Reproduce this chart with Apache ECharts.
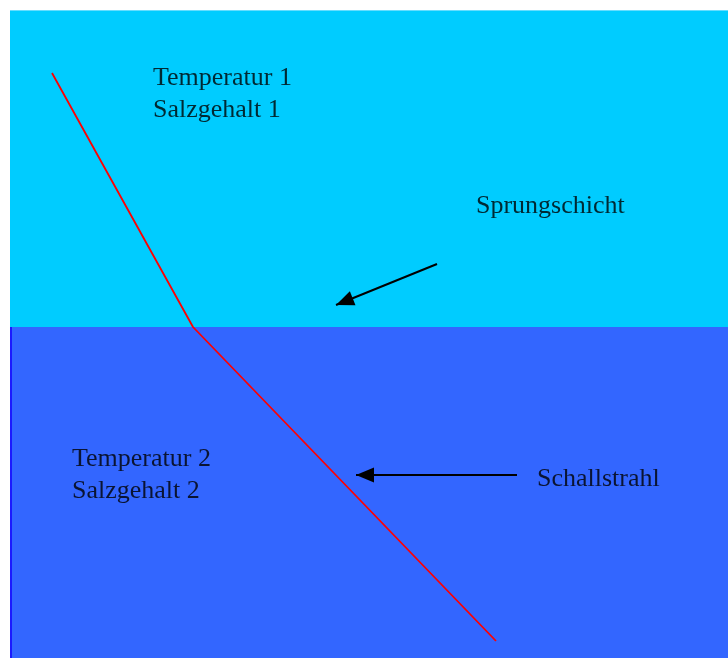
<!DOCTYPE html>
<html>
<head>
<meta charset="utf-8">
<script src="https://cdn.jsdelivr.net/npm/echarts@6/dist/echarts.min.js"></script>
<style>
  html, body { margin: 0; padding: 0; background: #fff; }
  #chart { width: 728px; height: 658px; }
</style>
</head>
<body>
<div id="chart"></div>
<script>
// Schichten (x0, x1, y0, y1) im Bildkoordinatensystem, y nach unten
const layerNames = ['Schicht 1', 'Schicht 2'];
const layerX0 = [10, 10];
const layerX1 = [728, 728];
const layerY0 = [10, 327];
const layerY1 = [327, 658];

// Schallstrahl (gebrochen an der Sprungschicht)
const rayX = [52, 193, 496];
const rayY = [73, 327, 641];

// Pfeile: Start -> Spitze
const arrowFrom = [[437, 264], [517, 475]];
const arrowTo = [[336, 305], [356, 475]];

// Beschriftungen
const labelText = ['Temperatur 1\nSalzgehalt 1', 'Sprungschicht', 'Temperatur 2\nSalzgehalt 2', 'Schallstrahl'];
const labelX = [153, 476, 72, 537];
const labelY = [94, 206, 475, 479];

const layerColors = ['#00ccff', '#3366ff'];

const chart = echarts.init(document.getElementById('chart'));

const option = {
  animation: false,
  grid: { left: 0, right: 0, top: 0, bottom: 0 },
  xAxis: { type: 'value', min: 0, max: 728, show: false },
  yAxis: { type: 'value', min: 0, max: 658, inverse: true, show: false },
  series: [
    {
      type: 'custom',
      data: layerNames.map((n, i) => [layerX0[i], layerX1[i], layerY0[i], layerY1[i]]),
      renderItem: (params, api) => {
        const p0 = api.coord([api.value(0), api.value(2)]);
        const p1 = api.coord([api.value(1), api.value(3)]);
        const children = [{
          type: 'rect',
          shape: { x: p0[0], y: p0[1], width: p1[0] - p0[0], height: p1[1] - p0[1] },
          style: { fill: layerColors[params.dataIndex] }
        }];
        if (params.dataIndex === 1) {
          // dunkler Rand links an der unteren Schicht
          children.push({
            type: 'rect',
            shape: { x: p0[0], y: p0[1], width: 2, height: p1[1] - p0[1] },
            style: { fill: '#1a1aff' }
          });
        } else {
          children.push({
            type: 'rect',
            shape: { x: p0[0], y: p0[1], width: p1[0] - p0[0], height: 1 },
            style: { fill: '#66ddff' }
          });
        }
        return { type: 'group', children };
      },
      silent: true,
      z: 1
    },
    {
      type: 'line',
      data: rayX.map((x, i) => [x, rayY[i]]),
      symbol: 'none',
      lineStyle: { color: '#ff0000', width: 1.8 },
      z: 3,
      markLine: {
        silent: true,
        symbol: ['none', 'triangle'],
        symbolSize: [15, 18],
        symbolOffset: [[0, 0], [0, 9]],
        lineStyle: { color: '#000', width: 2, type: 'solid' },
        label: { show: false },
        data: arrowFrom.map((f, i) => [{ coord: f }, { coord: arrowTo[i] }])
      }
    },
    {
      type: 'scatter',
      data: labelText.map((t, i) => [labelX[i], labelY[i]]),
      symbolSize: 0,
      z: 4,
      label: {
        show: true,
        position: 'inside',
        align: 'left',
        verticalAlign: 'middle',
        formatter: (p) => labelText[p.dataIndex],
        fontFamily: '"Liberation Serif", "Times New Roman", serif',
        fontSize: 26,
        lineHeight: 32,
        color: '#000'
      }
    }
  ]
};

chart.setOption(option);
</script>
</body>
</html>
